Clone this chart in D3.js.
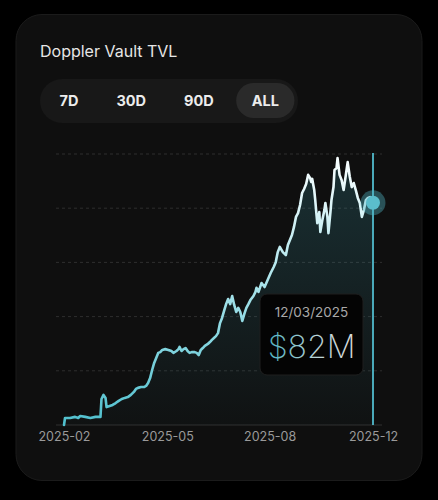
<!DOCTYPE html>
<html><head><meta charset="utf-8">
<script src="https://cdn.jsdelivr.net/npm/d3@7"></script>
<style>
body{margin:0;background:#000;}
svg{display:block;font-family:Inter,"Noto Sans",sans-serif;}
</style>
</head><body>
<svg id="c" width="438" height="500"></svg>
<script>
// ---- data ----
const title = "Doppler Vault TVL";
const ranges = ["7D", "30D", "90D", "ALL"];
const activeRange = "ALL";
const startDate = "2025-02-01";
// days since startDate
const dayOffsets = [0,1,6,11,14,16,21,26,31,36,37,39,41,42,45,48,51,54,57,60,63,66,69,71,73,76,79,81,83,85,87,89,91,93,95,97,100,103,106,108,111,113,114,116,118,120,122,124,126,129,131,133,135,137,139,142,144,146,148,150,152,154,156,158,160,162,164,166,168,170,172,174,176,178,180,182,184,187,189,190,192,195,198,201,204,207,209,211,213,216,219,221,223,225,227,229,231,233,235,237,239,241,243,244,245,247,248,249,250,252,253,255,257,258,260,261,263,264,266,267,269,270,272,274,276,278,280,282,284,286,288,290,292,294,296,298,300,302,303,305];
// TVL in millions of USD
const tvlMillions = [0,2.6,2.6,3.0,2.6,3.3,3.0,2.6,3.0,3.0,9.6,11.1,10.0,6.6,7.0,7.4,8.1,8.9,9.6,10.0,10.3,11.1,12.2,13.3,13.7,14.0,14.0,14.4,15.5,17.3,20.3,22.9,24.7,26.6,26.9,27.7,28.0,27.7,27.3,26.6,27.3,28.0,28.8,27.3,28.0,28.4,27.3,26.6,26.9,26.9,26.6,25.8,27.7,28.4,29.2,29.9,30.6,31.4,32.1,32.8,33.9,37.6,39.5,42.1,44.6,46.5,44.6,47.6,44.3,41.7,43.2,41.7,38.4,41.0,43.2,44.6,46.1,47.6,49.1,50.6,49.1,52.4,50.9,53.5,56.1,58.3,60.1,63.8,65.7,63.8,62.7,66.4,68.3,70.1,73.1,76.8,78.2,81.2,85.6,87.1,88.9,92.3,91.1,89.7,90.8,86.7,83.0,78.6,74.5,78.6,71.2,75.6,79.3,81.9,76.8,70.8,78.6,83.0,87.8,94.1,94.8,98.5,92.3,90.4,86.7,91.8,97.0,91.8,87.8,89.3,86.7,83.8,81.9,76.8,79.3,83.0,83.8,84.1,80.4,82.0];
const tickDates = ["2025-02-01", "2025-05-14", "2025-08-23", "2025-12-03"];
const yTicks = [20, 40, 60, 80, 100];
const hoverDate = "12/03/2025";
const hoverLabel = "$82M";

// ---- setup ----
const svg = d3.select("#c");
const parse = d3.timeParse("%Y-%m-%d");
const t0 = parse(startDate);
const data = dayOffsets.map((d, i) => ({date: d3.timeDay.offset(t0, d), v: tvlMillions[i]}));

const defs = svg.append("defs");
const lg = defs.append("linearGradient").attr("id","lineGrad")
  .attr("gradientUnits","userSpaceOnUse").attr("x1",0).attr("x2",0).attr("y1",425).attr("y2",165);
lg.append("stop").attr("offset","0%").attr("stop-color","#4fbfcd");
lg.append("stop").attr("offset","40%").attr("stop-color","#92dbe4");
lg.append("stop").attr("offset","100%").attr("stop-color","#f6feff");
const ag = defs.append("linearGradient").attr("id","areaGrad")
  .attr("gradientUnits","userSpaceOnUse").attr("x1",0).attr("x2",0).attr("y1",154).attr("y2",425);
ag.append("stop").attr("offset","0%").attr("stop-color","#3fa8b8").attr("stop-opacity",0.22);
ag.append("stop").attr("offset","100%").attr("stop-color","#3fa8b8").attr("stop-opacity",0.02);
const tg = defs.append("linearGradient").attr("id","textGrad")
  .attr("x1","0%").attr("x2","100%").attr("y1","0%").attr("y2","0%");
tg.append("stop").attr("offset","0%").attr("stop-color","#4fb3c3");
tg.append("stop").attr("offset","55%").attr("stop-color","#b9d3d6");
tg.append("stop").attr("offset","100%").attr("stop-color","#dcdcdc");

// card
svg.append("rect").attr("x",16).attr("y",14.5).attr("width",406).attr("height",466).attr("rx",26)
  .attr("fill","#0f0f0f").attr("stroke","#1b1b1b").attr("stroke-width",1);

// title
svg.append("text").attr("x",40).attr("y",57).attr("fill","#e6e6e6")
  .attr("font-size",16).attr("font-weight",400).text(title);

// range buttons
svg.append("rect").attr("x",40).attr("y",79).attr("width",258).attr("height",44).attr("rx",22).attr("fill","#181818");
const bg = svg.append("g");
let bx = 44;
ranges.forEach(r => {
  const t = bg.append("text").attr("y",106).attr("fill","#ececec").attr("font-size",14.5)
    .attr("font-weight",700).attr("text-anchor","middle").text(r);
  const w = t.node().getComputedTextLength() + 31;
  if (r === activeRange) {
    bg.insert("rect","text").attr("x",bx).attr("y",83).attr("width",w).attr("height",35).attr("rx",17.5).attr("fill","#2a2a2a");
  }
  t.attr("x", bx + w/2);
  bx += w + 7;
});

// scales
const x = d3.scaleTime().domain([parse(tickDates[0]), parse(tickDates[tickDates.length-1])]).range([64, 373]);
const y = d3.scaleLinear().domain([0, 100]).range([425, 154]);

// grid
svg.append("g").selectAll("line").data(yTicks).join("line")
  .attr("x1",56).attr("x2",382).attr("y1",d=>y(d)).attr("y2",d=>y(d))
  .attr("stroke","#2e2e2e").attr("stroke-width",1).attr("stroke-dasharray","3,3");

// x axis
const xAxis = svg.append("g").attr("transform","translate(0,425)")
  .call(d3.axisBottom(x).tickValues(tickDates.map(parse)).tickFormat(d3.timeFormat("%Y-%m")).tickSize(0).tickPadding(7));
xAxis.select(".domain").remove();
xAxis.append("line").attr("x1",56).attr("x2",382).attr("stroke","#262626").attr("stroke-width",1.5);
xAxis.selectAll("text").attr("fill","#9a9a9a").attr("font-size",12.5).attr("font-family","Inter, 'Noto Sans', sans-serif");

// area + line
svg.append("path").datum(data).attr("fill","url(#areaGrad)")
  .attr("d", d3.area().x(d=>x(d.date)).y0(y(0)).y1(d=>y(d.v)));
svg.append("path").datum(data).attr("fill","none").attr("stroke","url(#lineGrad)")
  .attr("stroke-width",2.6).attr("stroke-linejoin","round").attr("stroke-linecap","round")
  .attr("d", d3.line().x(d=>x(d.date)).y(d=>y(d.v)));

// cursor
const last = data[data.length-1];
svg.append("line").attr("x1",x(last.date)).attr("x2",x(last.date)).attr("y1",153).attr("y2",425)
  .attr("stroke","#4aa9b9").attr("stroke-width",2);
svg.append("circle").attr("cx",x(last.date)).attr("cy",y(last.v)).attr("r",12.5).attr("fill","#4fb3c3").attr("fill-opacity",0.4);
svg.append("circle").attr("cx",x(last.date)).attr("cy",y(last.v)).attr("r",7).attr("fill","#5bbdcc");

// tooltip
const tip = svg.append("g");
tip.append("rect").attr("x",260).attr("y",294).attr("width",103).attr("height",81).attr("rx",7)
  .attr("fill","#040404").attr("stroke","#1f1f1f");
tip.append("text").attr("x",311.5).attr("y",317).attr("text-anchor","middle").attr("fill","#a9a9a9")
  .attr("font-size",13.5).text(hoverDate);
tip.append("text").attr("x",311.5).attr("y",358).attr("text-anchor","middle").attr("fill","url(#textGrad)")
  .attr("font-size",32).attr("font-weight",200).text(hoverLabel);
</script>
</body></html>
